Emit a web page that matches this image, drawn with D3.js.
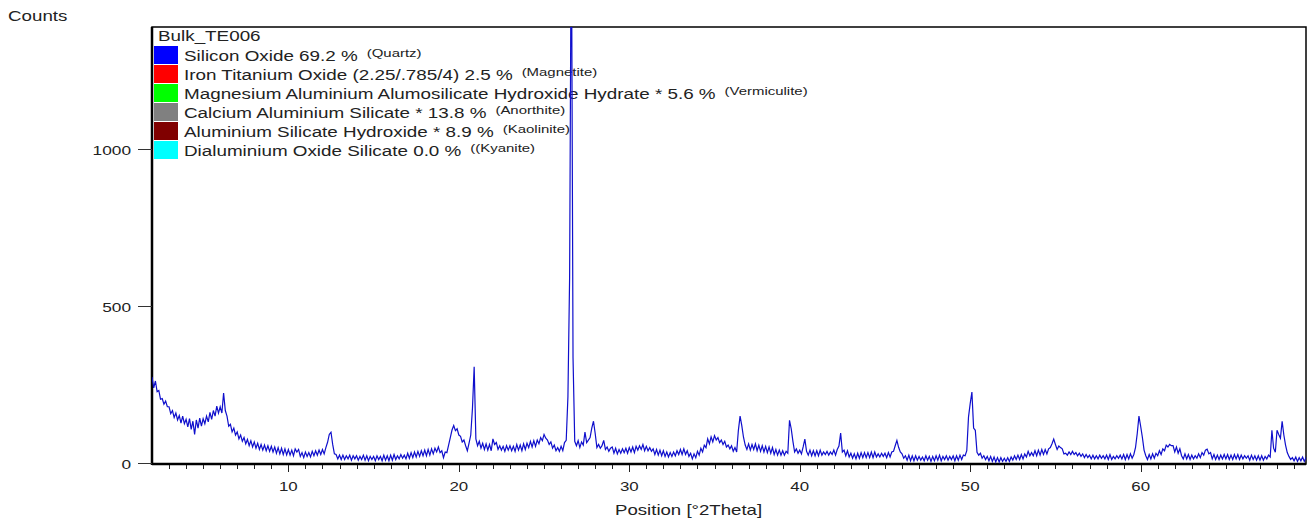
<!DOCTYPE html>
<html>
<head>
<meta charset="utf-8">
<script src="https://cdn.jsdelivr.net/npm/d3@7"></script>
<style>
  html, body { margin: 0; padding: 0; background: #fff; }
  svg { display: block; }
  text { font-family: "Liberation Sans", Arial, sans-serif; fill: #222; }
</style>
</head>
<body>
<svg id="chart" width="1312" height="521"></svg>
<script>
// ---- data ----
const twoThetaStart = 2.0;
const twoThetaStep = 0.1;
// counts per 0.1 deg step, one row per degree (2.x ... 69.x)
const counts = [
  275, 240, 262, 228, 232, 204, 206, 188, 198, 180,
  180, 158, 168, 146, 160, 138, 152, 128, 150, 126,
  140, 116, 142, 108, 134, 92, 138, 112, 144, 118,
  142, 126, 150, 132, 162, 140, 168, 150, 182, 160,
  180, 160, 224, 168, 150, 118, 124, 100, 112, 90,
  100, 78, 90, 70, 82, 62, 76, 56, 72, 52,
  68, 48, 64, 44, 60, 42, 58, 40, 56, 38,
  54, 36, 52, 32, 50, 30, 48, 28, 46, 27,
  44, 26, 42, 24, 46, 36, 44, 22, 34, 18,
  36, 22, 34, 20, 38, 24, 40, 26, 42, 28,
  44, 30, 50, 67, 92, 99, 60, 30, 28, 14,
  26, 12, 26, 12, 24, 14, 26, 10, 24, 14,
  24, 10, 22, 12, 26, 10, 24, 8, 22, 12,
  22, 8, 24, 12, 22, 8, 26, 10, 24, 8,
  26, 10, 28, 12, 24, 14, 28, 16, 26, 14,
  32, 16, 34, 18, 36, 20, 38, 22, 40, 24,
  42, 24, 44, 26, 46, 30, 48, 36, 52, 34,
  40, 18, 36, 34, 58, 82, 106, 120, 104, 110,
  90, 86, 68, 74, 56, 40, 64, 90, 175, 307,
  78, 56, 70, 48, 64, 44, 62, 42, 60, 40,
  78, 60, 66, 44, 56, 42, 54, 38, 56, 42,
  56, 40, 54, 38, 60, 42, 58, 40, 62, 44,
  64, 50, 70, 52, 72, 54, 74, 62, 82, 72,
  92, 80, 74, 60, 68, 48, 58, 40, 50, 38,
  54, 40, 66, 73, 211, 594, 1800, 335, 70, 56,
  72, 50, 68, 58, 99, 66, 74, 82, 112, 134,
  95, 50, 60, 48, 56, 73, 44, 52, 38, 48,
  52, 32, 48, 30, 44, 32, 46, 34, 48, 32,
  50, 36, 52, 34, 54, 42, 56, 44, 60, 40,
  54, 40, 50, 38, 46, 28, 44, 26, 42, 24,
  40, 22, 36, 20, 34, 22, 36, 24, 40, 28,
  44, 28, 46, 28, 40, 22, 32, 14, 30, 18,
  38, 26, 48, 36, 58, 50, 78, 62, 84, 68,
  88, 74, 82, 66, 74, 60, 70, 52, 58, 46,
  56, 38, 50, 36, 105, 150, 120, 83, 58, 44,
  62, 42, 60, 44, 62, 40, 58, 38, 56, 36,
  54, 34, 52, 32, 50, 28, 44, 26, 42, 26,
  40, 26, 38, 32, 137, 110, 70, 36, 46, 32,
  42, 30, 52, 77, 38, 26, 42, 24, 40, 24,
  40, 24, 42, 26, 36, 28, 38, 26, 36, 28,
  42, 26, 44, 55, 96, 36, 42, 24, 40, 20,
  32, 16, 30, 14, 32, 16, 34, 18, 34, 18,
  34, 18, 36, 18, 36, 20, 30, 20, 32, 22,
  32, 18, 34, 20, 36, 38, 56, 73, 51, 36,
  30, 16, 24, 10, 26, 8, 24, 8, 24, 10,
  22, 10, 20, 8, 24, 10, 22, 6, 22, 8,
  24, 10, 26, 8, 22, 12, 24, 10, 22, 12,
  24, 8, 24, 10, 26, 12, 26, 24, 40, 147,
  190, 227, 112, 105, 35, 26, 32, 16, 24, 12,
  22, 8, 22, 6, 20, 4, 18, 4, 18, 6,
  16, 6, 18, 6, 20, 10, 24, 12, 26, 12,
  28, 14, 30, 20, 38, 24, 34, 24, 40, 24,
  42, 26, 44, 28, 44, 30, 46, 50, 62, 77,
  60, 44, 55, 50, 46, 30, 32, 26, 36, 28,
  38, 28, 34, 24, 32, 22, 30, 18, 28, 18,
  26, 14, 26, 14, 24, 14, 26, 16, 24, 14,
  26, 12, 28, 12, 22, 14, 24, 16, 26, 14,
  28, 12, 28, 14, 30, 16, 28, 51, 95, 150,
  118, 83, 42, 24, 12, 28, 14, 30, 16, 32,
  24, 40, 28, 46, 40, 58, 52, 60, 56, 56,
  36, 52, 32, 46, 24, 14, 30, 14, 28, 12,
  26, 14, 24, 16, 30, 18, 34, 26, 42, 45,
  30, 34, 14, 28, 12, 26, 12, 26, 14, 28,
  14, 28, 12, 26, 12, 28, 14, 28, 12, 26,
  14, 24, 16, 24, 10, 26, 12, 24, 10, 24,
  10, 24, 10, 22, 14, 26, 20, 105, 48, 35,
  105, 92, 80, 134, 90, 58, 34, 22, 12, 18,
  8, 20, 6, 18, 8, 20, 6, 18, 8, 20
];

const sampleName = "Bulk_TE006";
const phaseNames = [
  "Silicon Oxide 69.2 %",
  "Iron Titanium Oxide (2.25/.785/4) 2.5 %",
  "Magnesium Aluminium Alumosilicate Hydroxide Hydrate * 5.6 %",
  "Calcium Aluminium Silicate * 13.8 %",
  "Aluminium Silicate Hydroxide * 8.9 %",
  "Dialuminium Oxide Silicate 0.0 %"
];
const mineralNames = ["(Quartz)", "(Magnetite)", "(Vermiculite)", "(Anorthite)", "(Kaolinite)", "((Kyanite)"];
const phaseColors = ["#0000ff", "#ff0000", "#00ff00", "#808080", "#800000", "#00ffff"];

const xTickValues = [10, 20, 30, 40, 50, 60];
const yTickValues = [0, 500, 1000];
const xTitle = "Position [°2Theta]";
const yTitle = "Counts";

// ---- layout ----
const plot = { left: 152, right: 1306, top: 27, bottom: 464 };

const svg = d3.select("#chart");
const x = d3.scaleLinear().domain([2.0, 69.7]).range([plot.left, plot.right]);
const y = d3.scaleLinear().domain([0, 1389]).range([463.3, plot.top]);

const points = counts.map((c, i) => ({ t: twoThetaStart + i * twoThetaStep, c }));

function label(parent, px, py, str, size, anchor, sx) {
  return parent.append("text")
    .attr("transform", `translate(${px},${py}) scale(${sx},1)`)
    .attr("text-anchor", anchor || "start")
    .style("font-size", size + "px")
    .text(str);
}

// y title
label(svg, 8, 21, yTitle, 14, "start", 1.34);

// clip
svg.append("defs").append("clipPath").attr("id", "plotclip")
  .append("rect")
  .attr("x", plot.left).attr("y", plot.top)
  .attr("width", plot.right - plot.left).attr("height", plot.bottom - plot.top);

// frame
svg.append("rect")
  .attr("x", plot.left).attr("y", plot.top)
  .attr("width", plot.right - plot.left).attr("height", plot.bottom - plot.top)
  .attr("fill", "none").attr("stroke", "#000").attr("stroke-width", 1.5);
svg.append("line").attr("x1", plot.left).attr("x2", plot.left)
  .attr("y1", plot.top).attr("y2", plot.bottom + 1)
  .attr("stroke", "#000").attr("stroke-width", 2.5);
svg.append("line").attr("x1", plot.left).attr("x2", plot.right)
  .attr("y1", plot.bottom).attr("y2", plot.bottom)
  .attr("stroke", "#000").attr("stroke-width", 2.5);

// y axis ticks
const yAxis = svg.append("g");
yTickValues.forEach(v => {
  const yy = Math.round(y(v)) + 0.5;
  yAxis.append("line").attr("x1", 138).attr("x2", plot.left).attr("y1", yy).attr("y2", yy)
    .attr("stroke", "#333").attr("stroke-width", 1);
  label(yAxis, 131, yy + 5, String(v), 13.5, "end", 1.28);
});

// x axis ticks (minor every degree, major every 10)
const xAxis = svg.append("g");
d3.range(3, 70, 1).forEach(v => {
  const xx = Math.round(x(v)) + 0.5;
  const major = v % 10 === 0;
  xAxis.append("line").attr("x1", xx).attr("x2", xx)
    .attr("y1", plot.bottom + 1).attr("y2", plot.bottom + (major ? 8 : 5))
    .attr("stroke", "#222").attr("stroke-width", 1);
});
xTickValues.forEach(v => {
  label(xAxis, x(v), 491, String(v), 13.5, "middle", 1.25);
});
label(svg, 615, 515, xTitle, 14, "start", 1.33);

// legend
const legend = svg.append("g");
label(legend, 158, 41, sampleName, 14.5, "start", 1.3);
phaseNames.forEach((name, i) => {
  const cy = 55 + 19 * i;
  legend.append("rect").attr("x", 154).attr("y", cy - 9).attr("width", 24).attr("height", 18)
    .attr("fill", phaseColors[i]);
  const t = label(legend, 184, cy + 5.5, name, 14.5, "start", 1.3);
  const w = t.node().getComputedTextLength() * 1.3;
  label(legend, 184 + w + 9, cy + 2, mineralNames[i], 11.5, "start", 1.3);
});

// pattern line
const line = d3.line().x(d => x(d.t)).y(d => y(d.c));
svg.append("path")
  .datum(points)
  .attr("clip-path", "url(#plotclip)")
  .attr("d", line)
  .attr("fill", "none")
  .attr("stroke", "#0f0fcc")
  .attr("stroke-width", 1.2);
</script>
</body>
</html>
